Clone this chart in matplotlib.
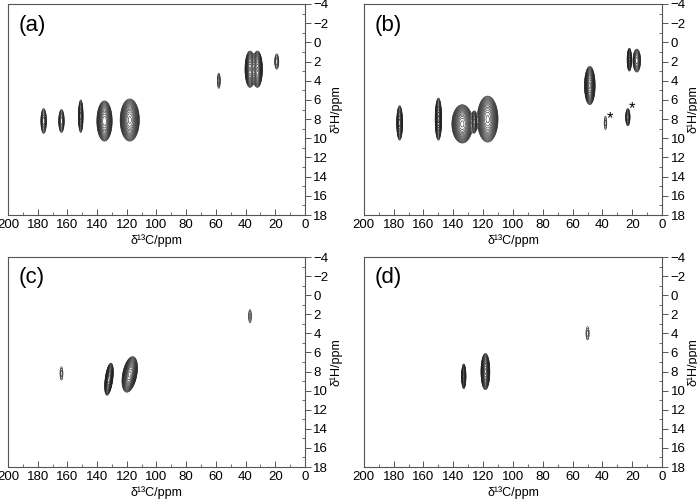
import numpy as np
import matplotlib
matplotlib.use("Agg")
import matplotlib.pyplot as plt
from matplotlib.ticker import MultipleLocator

plt.rcParams["font.family"] = ["Liberation Sans", "DejaVu Sans"]

# Peak tables per panel: 13C centre, 1H centre, visible half-widths, amplitude, tilt (deg)
panel_labels = ["(a)", "(b)", "(c)", "(d)"]

a_c = [176, 164, 151, 135, 118, 58, 37, 32, 19]
a_h = [8.2, 8.2, 7.7, 8.2, 8.1, 4.0, 2.8, 2.8, 2.0]
a_wc = [1.9, 1.9, 1.6, 5.2, 6.5, 1.0, 3.4, 3.4, 1.4]
a_wh = [1.3, 1.2, 1.7, 2.1, 2.2, 0.8, 1.9, 1.9, 0.8]
a_amp = [0.25, 0.25, 0.35, 0.9, 1.0, 0.1, 0.8, 0.8, 0.12]
a_tilt = [0, 0, 0, 0, 0, 0, 0, 0, 0]

b_c = [176, 150, 134, 126, 117, 48.5, 22, 17, 38, 23]
b_h = [8.4, 8.0, 8.5, 8.3, 8.0, 4.5, 1.8, 1.9, 8.4, 7.8]
b_wc = [2.0, 2.2, 7.0, 1.8, 7.0, 3.6, 1.5, 2.6, 0.9, 1.5]
b_wh = [1.8, 2.2, 2.0, 1.1, 2.4, 2.0, 1.2, 1.2, 0.7, 0.9]
b_amp = [0.5, 0.7, 1.0, 0.4, 1.0, 1.0, 0.5, 0.3, 0.08, 0.25]
b_tilt = [0, 0, 0, 0, 0, 0, 0, 0, 0, 0]

c_c = [164, 132, 118, 37]
c_h = [8.2, 8.8, 8.3, 2.2]
c_wc = [1.0, 2.6, 4.8, 1.0]
c_wh = [0.7, 1.7, 1.9, 0.7]
c_amp = [0.08, 0.9, 1.0, 0.08]
c_tilt = [0, 8, 12, 0]

d_c = [133, 118.5, 50]
d_h = [8.5, 8.0, 4.0]
d_wc = [1.5, 3.0, 1.1]
d_wh = [1.3, 1.9, 0.7]
d_amp = [0.5, 1.0, 0.08]
d_tilt = [0, 0, 0]

star_c = [35, 20]
star_h = [8.0, 6.9]

panels = [
    (a_c, a_h, a_wc, a_wh, a_amp, a_tilt),
    (b_c, b_h, b_wc, b_wh, b_amp, b_tilt),
    (c_c, c_h, c_wc, c_wh, c_amp, c_tilt),
    (d_c, d_h, d_wc, d_wh, d_amp, d_tilt),
]

base = 0.05
levels = base * 1.2 ** np.arange(18)

xc = np.linspace(0, 200, 1400)
yh = np.linspace(-4, 18, 800)
X, Y = np.meshgrid(xc, yh)


def spectrum(cs, hs, wcs, whs, amps, tilts):
    Z = np.zeros_like(X)
    for c, h, wc, wh, A, t in zip(cs, hs, wcs, whs, amps, tilts):
        k = np.sqrt(2 * np.log(A / base))
        sc, sh = wc / k, wh / k
        th = np.deg2rad(t)
        dx = (X - c) / 6.0
        dy = Y - h
        u = dx * np.cos(th) - dy * np.sin(th)
        v = dx * np.sin(th) + dy * np.cos(th)
        Z += A * np.exp(-0.5 * ((u * 6.0 / sc) ** 2 + (v / sh) ** 2))
    return Z


fig = plt.figure(figsize=(6.97, 5.0), dpi=100)
rects = [
    [0.0115, 0.570, 0.426, 0.422],
    [0.522, 0.570, 0.428, 0.422],
    [0.0115, 0.066, 0.426, 0.420],
    [0.522, 0.066, 0.428, 0.420],
]
spine_col = "#555555"

for i, (rect, pk) in enumerate(zip(rects, panels)):
    ax = fig.add_axes(rect)
    Z = spectrum(*pk)
    ax.contour(X, Y, Z, levels=levels, colors="#222222", linewidths=0.4)
    ax.set_xlim(200, 0)
    ax.set_ylim(18, -4)
    ax.yaxis.tick_right()
    ax.yaxis.set_label_position("right")
    ax.xaxis.set_major_locator(MultipleLocator(20))
    ax.xaxis.set_minor_locator(MultipleLocator(10))
    ax.yaxis.set_major_locator(MultipleLocator(2))
    ax.yaxis.set_minor_locator(MultipleLocator(1))
    ax.tick_params(axis="x", which="major", direction="in", length=4, width=0.7,
                   color=spine_col, labelsize=9.5, pad=3)
    ax.tick_params(axis="x", which="minor", direction="in", length=2, width=0.6,
                   color=spine_col)
    ax.tick_params(axis="y", which="major", direction="out", length=4, width=0.7,
                   color=spine_col, labelsize=9.5, pad=2)
    ax.tick_params(axis="y", which="minor", direction="in", length=2, width=0.6,
                   color=spine_col)
    for s in ax.spines.values():
        s.set_color(spine_col)
        s.set_linewidth(0.8)
    ax.set_xlabel("δ¹³C/ppm", fontsize=9, labelpad=2)
    ax.set_ylabel("δ¹H/ppm", fontsize=9, rotation=90, labelpad=1)
    ax.text(0.035, 0.95, panel_labels[i], transform=ax.transAxes,
            fontsize=16, va="top", ha="left")
    if i == 1:
        for sc, sh in zip(star_c, star_h):
            ax.text(sc, sh, "*", fontsize=12, ha="center", va="center")

fig.savefig("out.png", dpi=100)
